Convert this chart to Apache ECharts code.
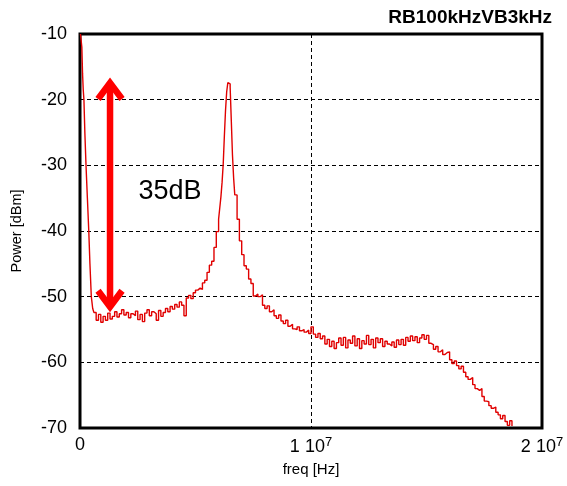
<!DOCTYPE html>
<html>
<head>
<meta charset="utf-8">
<script src="https://cdn.jsdelivr.net/npm/echarts@6/dist/echarts.min.js"></script>
<style>
  html, body { margin: 0; padding: 0; background: #fff; }
  #chart { width: 567px; height: 486px; }
</style>
</head>
<body>
<div id="chart"></div>
<script>
// Spectrum analyser sweep: frequency in MHz, power in dBm
const freqMHz = [
  0.02, 0.05, 0.08, 0.11, 0.14, 0.17, 0.21, 0.26, 0.32, 0.38, 0.43, 0.49, 0.55,
  0.6, 0.7, 0.8, 0.9, 1.0, 1.1, 1.2, 1.3, 1.4, 1.5, 1.6, 1.7, 1.8, 1.9,
  2.0, 2.1, 2.2, 2.3, 2.4, 2.5, 2.6, 2.7, 2.8, 2.9,
  3.0, 3.1, 3.2, 3.3, 3.4, 3.5, 3.6, 3.7, 3.8, 3.9,
  4.0, 4.1, 4.2, 4.3, 4.4, 4.5, 4.6, 4.7, 4.8, 4.9,
  5.0, 5.1, 5.2, 5.3, 5.4, 5.5, 5.6, 5.7, 5.8, 5.9,
  6.0, 6.05, 6.1, 6.15, 6.2, 6.25, 6.3, 6.35, 6.4, 6.45, 6.5, 6.55, 6.6, 6.65, 6.7, 6.8, 6.9,
  7.0, 7.1, 7.2, 7.3, 7.4, 7.5, 7.6, 7.7, 7.8, 7.9,
  8.0, 8.1, 8.2, 8.3, 8.4, 8.5, 8.6, 8.7, 8.8, 8.9,
  9.0, 9.1, 9.2, 9.3, 9.4, 9.5, 9.6, 9.7, 9.8, 9.9,
  10.0, 10.1, 10.2, 10.3, 10.4, 10.5, 10.6, 10.7, 10.8, 10.9,
  11.0, 11.1, 11.2, 11.3, 11.4, 11.5, 11.6, 11.7, 11.8, 11.9,
  12.0, 12.1, 12.2, 12.3, 12.4, 12.5, 12.6, 12.7, 12.8, 12.9,
  13.0, 13.1, 13.2, 13.3, 13.4, 13.5, 13.6, 13.7, 13.8, 13.9,
  14.0, 14.1, 14.2, 14.3, 14.4, 14.5, 14.6, 14.7, 14.8, 14.9,
  15.0, 15.1, 15.2, 15.3, 15.4, 15.5, 15.6, 15.7, 15.8, 15.9,
  16.0, 16.1, 16.2, 16.3, 16.4, 16.5, 16.6, 16.7, 16.8, 16.9,
  17.0, 17.1, 17.2, 17.3, 17.4, 17.5, 17.6, 17.7, 17.8, 17.9,
  18.0, 18.1, 18.2, 18.3, 18.4, 18.5, 18.6, 18.7
];
const powerDbm = [
  -10.0, -10.3, -12.0, -16.0, -18.5, -20.0, -25.0, -30.0, -35.0, -40.0, -45.0, -50.0, -51.8,
  -52.4, -53.6, -52.7, -53.9, -53.0, -53.6, -52.5, -53.4, -53.0, -52.3, -53.1, -52.6, -52.0, -52.8,
  -52.4, -53.2, -52.6, -52.9, -52.2, -53.5, -52.7, -53.8, -52.5, -52.0,
  -52.9, -52.3, -52.6, -53.6, -52.1, -53.0, -52.4, -51.8, -52.3, -51.5,
  -51.9, -51.2, -51.6, -50.8, -51.3, -52.9, -50.2, -49.8, -50.3, -49.4,
  -49.0, -48.7, -48.9, -47.9, -47.5, -46.3, -45.2, -44.6, -42.5, -40.1,
  -38.2, -36.5, -34.8, -32.6, -29.8, -25.5, -21.6, -18.8, -17.4, -17.6, -18.1, -23.2, -28.4, -31.9, -34.5, -38.2, -41.5,
  -43.6, -45.3, -45.8, -47.3, -48.0, -49.9, -49.6, -50.0, -49.7, -51.3,
  -51.8, -51.4, -52.3, -52.0, -52.9, -53.3, -52.8, -53.7, -54.1, -53.6,
  -54.5, -54.2, -54.9, -55.0, -54.6, -55.2, -55.0, -55.4, -55.1, -55.6,
  -54.6, -55.7, -56.2, -55.6, -56.4, -56.0, -57.2, -56.5, -57.6, -56.8,
  -57.9, -57.0, -56.3, -57.4, -56.2, -57.8, -56.6, -57.1, -56.0, -57.5,
  -56.4, -57.9, -56.7, -57.2, -55.9, -57.3, -56.5, -57.8, -56.3, -57.0,
  -56.4, -57.6, -56.8, -57.2, -57.5, -56.9, -57.7, -56.6, -57.3, -56.5,
  -57.4, -56.2, -56.8, -56.0, -56.7, -56.1, -57.0, -56.3, -55.8, -56.5,
  -55.9, -57.1, -57.3, -58.0, -57.6, -58.4, -58.1, -58.8, -58.5, -58.4,
  -59.6, -60.2, -59.8, -60.5, -61.0, -60.6, -61.5, -62.2, -62.6, -62.3,
  -63.4, -64.0, -64.3, -64.0, -65.2, -65.9, -66.0, -66.6, -67.0, -66.8,
  -67.6, -68.0, -68.6, -68.1, -69.0, -69.6, -68.9, -69.7
];

// Axis ticks
const xTicks = [0, 1e7, 2e7];
const yMin = -70, yMax = -10, yStep = 10;

// Dynamic-range annotation (arrow spans 35 dB)
const arrowFreqMHz = 1.3;
const arrowTop = -17;
const arrowBottom = -52;
const arrowLabel = '35dB';
const arrowLabelPos = [3.9, -34.0];

const traceColor = '#e00000';
const sans = 'Liberation Sans, Arial, sans-serif';
const sweep = freqMHz.map((f, i) => [f * 1e6, powerDbm[i]]);

const chart = echarts.init(document.getElementById('chart'), null, { renderer: 'canvas' });

function tickLabel(v) {
  if (v === 0) return '0';
  const m = Math.round(v / 1e7);
  return m + ' 10{sup|7}';
}

chart.setOption({
  animation: false,
  backgroundColor: '#fff',
  title: {
    text: 'RB100kHzVB3kHz',
    right: 10, top: 3,
    textStyle: { fontFamily: sans, fontSize: 19, fontWeight: 'bold', color: '#000' }
  },
  grid: {
    left: 80, right: 25, top: 34, bottom: 58,
    show: true, borderColor: '#000', borderWidth: 3, backgroundColor: 'transparent'
  },
  xAxis: {
    type: 'value', min: 0, max: 2e7, interval: 1e7,
    name: 'freq [Hz]', nameLocation: 'middle', nameGap: 34,
    nameTextStyle: { fontFamily: sans, fontSize: 15, color: '#000' },
    axisLine: { show: false }, axisTick: { show: false },
    axisLabel: {
      margin: 8, color: '#000', fontFamily: sans, fontSize: 18,
      formatter: tickLabel,
      rich: { sup: { fontSize: 13, verticalAlign: 'top', padding: [0, 0, 9, 0], fontFamily: sans, color: '#000' } }
    },
    splitLine: { show: true, lineStyle: { color: '#000', width: 1, type: [4, 3] } }
  },
  yAxis: {
    type: 'value', min: yMin, max: yMax, interval: yStep,
    name: 'Power [dBm]', nameLocation: 'middle', nameGap: 56,
    nameTextStyle: { fontFamily: sans, fontSize: 14.5, color: '#000' },
    axisLine: { show: false }, axisTick: { show: false },
    axisLabel: { margin: 13, color: '#000', fontFamily: sans, fontSize: 18 },
    splitLine: { show: true, lineStyle: { color: '#000', width: 1, type: [4, 3] } }
  },
  series: [
    {
      type: 'line',
      data: sweep,
      step: 'end',
      showSymbol: false,
      lineStyle: { color: traceColor, width: 1.4 },
      clip: true,
      z: 3
    },
    {
      type: 'custom',
      data: [[arrowFreqMHz * 1e6, arrowTop, arrowBottom]],
      z: 5,
      renderItem: function (params, api) {
        const top = api.coord([api.value(0), api.value(1)]);
        const bot = api.coord([api.value(0), api.value(2)]);
        const hw = 12, hl = 19;
        const style = { stroke: '#ff0000', lineWidth: 6.5, fill: null, lineJoin: 'miter', lineCap: 'butt' };
        const lbl = api.coord([arrowLabelPos[0] * 1e6, arrowLabelPos[1]]);
        return {
          type: 'group',
          children: [
            { type: 'line', shape: { x1: top[0], y1: top[1] + 3, x2: bot[0], y2: bot[1] - 3 }, style: style },
            { type: 'polyline', shape: { points: [[top[0] - hw, top[1] + hl], [top[0], top[1] + 3], [top[0] + hw, top[1] + hl]] }, style: style },
            { type: 'polyline', shape: { points: [[bot[0] - hw, bot[1] - hl], [bot[0], bot[1] - 3], [bot[0] + hw, bot[1] - hl]] }, style: style },
            {
              type: 'text', x: lbl[0], y: lbl[1],
              style: { text: arrowLabel, fill: '#000', fontFamily: sans, fontSize: 27, textAlign: 'center', textVerticalAlign: 'middle' }
            }
          ]
        };
      }
    }
  ]
});
</script>
</body>
</html>
